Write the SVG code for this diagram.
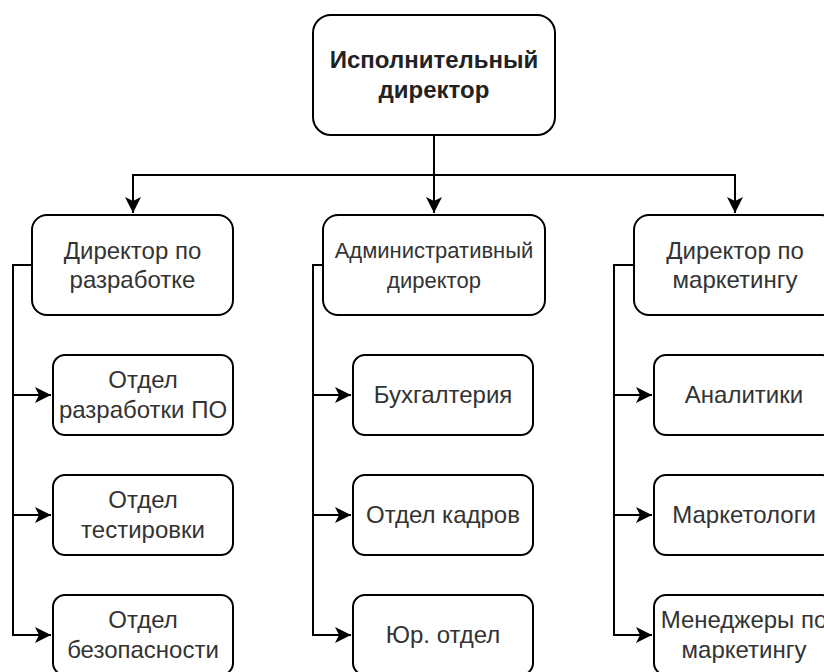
<svg xmlns="http://www.w3.org/2000/svg" width="824" height="672" viewBox="0 0 824 672">
  <style>
    .box { fill: #ffffff; stroke: #000000; stroke-width: 2; }
    .edge { fill: none; stroke: #000000; stroke-width: 2; marker-end: url(#arrow); }
    text { font-family: "Liberation Sans", Arial, sans-serif; font-size: 24px; fill: #333333; text-anchor: middle; }
    .bold { font-weight: bold; fill: #222222; }
    .small { font-size: 22px; }
  </style>
  <defs>
    <marker id="arrow" markerUnits="userSpaceOnUse" markerWidth="17" markerHeight="17" refX="16" refY="8" orient="auto">
      <path d="M0,0 L16,8 L0,16 L4,8 Z" fill="#000000" stroke="none"/>
    </marker>
  </defs>
  <rect width="824" height="672" fill="#ffffff"/>

  <g id="connectors">
    <path class="edge" d="M434,135 V175 H133 V213"/>
    <path class="edge" d="M434,135 V213"/>
    <path class="edge" d="M434,135 V175 H735 V213"/>

    <path class="edge" d="M32,265 H13 V395 H51"/>
    <path class="edge" d="M32,265 H13 V515 H51"/>
    <path class="edge" d="M32,265 H13 V635 H51"/>

    <path class="edge" d="M323,265 H313 V395 H351"/>
    <path class="edge" d="M323,265 H313 V515 H351"/>
    <path class="edge" d="M323,265 H313 V635 H351"/>

    <path class="edge" d="M634,265 H614 V395 H652"/>
    <path class="edge" d="M634,265 H614 V515 H652"/>
    <path class="edge" d="M634,265 H614 V635 H652"/>
  </g>

  <g id="ceo">
    <rect class="box" x="313" y="15" width="242" height="120" rx="18" ry="18"/>
    <text class="bold" x="434" y="68">Исполнительный</text>
    <text class="bold" x="434" y="98">директор</text>
  </g>

  <g id="dev-director">
    <rect class="box" x="32" y="215" width="201" height="100" rx="15" ry="15"/>
    <text x="132.5" y="259">Директор по</text>
    <text x="132.5" y="288">разработке</text>
  </g>
  <g id="admin-director">
    <rect class="box" x="323" y="215" width="222" height="100" rx="15" ry="15"/>
    <text class="small" x="434" y="258">Административный</text>
    <text class="small" x="434" y="288">директор</text>
  </g>
  <g id="marketing-director">
    <rect class="box" x="634" y="215" width="202" height="100" rx="15" ry="15"/>
    <text x="735" y="259">Директор по</text>
    <text x="735" y="288">маркетингу</text>
  </g>

  <g id="dev-software">
    <rect class="box" x="53" y="355" width="180" height="80" rx="12" ry="12"/>
    <text x="143" y="388">Отдел</text>
    <text x="143" y="418">разработки ПО</text>
  </g>
  <g id="dev-testing">
    <rect class="box" x="53" y="475" width="180" height="80" rx="12" ry="12"/>
    <text x="143" y="508">Отдел</text>
    <text x="143" y="538">тестировки</text>
  </g>
  <g id="dev-security">
    <rect class="box" x="53" y="595" width="180" height="80" rx="12" ry="12"/>
    <text x="143" y="628">Отдел</text>
    <text x="143" y="658">безопасности</text>
  </g>

  <g id="accounting">
    <rect class="box" x="353" y="355" width="180" height="80" rx="12" ry="12"/>
    <text x="443" y="403">Бухгалтерия</text>
  </g>
  <g id="hr">
    <rect class="box" x="353" y="475" width="180" height="80" rx="12" ry="12"/>
    <text x="443" y="523">Отдел кадров</text>
  </g>
  <g id="legal">
    <rect class="box" x="353" y="595" width="180" height="80" rx="12" ry="12"/>
    <text x="443" y="643">Юр. отдел</text>
  </g>

  <g id="analysts">
    <rect class="box" x="654" y="355" width="180" height="80" rx="12" ry="12"/>
    <text x="744" y="403">Аналитики</text>
  </g>
  <g id="marketers">
    <rect class="box" x="654" y="475" width="180" height="80" rx="12" ry="12"/>
    <text x="744" y="523">Маркетологи</text>
  </g>
  <g id="marketing-managers">
    <rect class="box" x="654" y="595" width="180" height="80" rx="12" ry="12"/>
    <text x="744" y="628">Менеджеры по</text>
    <text x="744" y="658">маркетингу</text>
  </g>
</svg>
